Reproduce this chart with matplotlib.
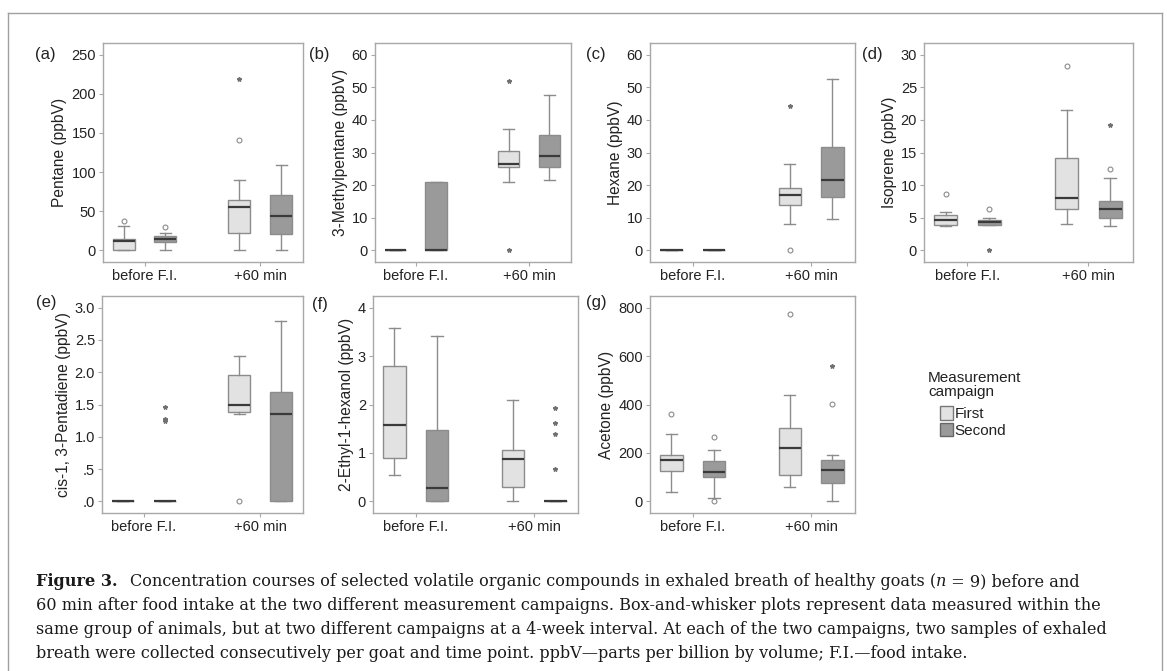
import matplotlib
matplotlib.use("Agg")
import matplotlib.pyplot as plt
from matplotlib.patches import Patch
from matplotlib.lines import Line2D
import numpy as np

## Data (ppbV)
# order of boxes in every panel: before/First, before/Second, +60/First, +60/Second
groups = ['before F.I.', '+60 min']
campaigns = ['First', 'Second']

panels = ['(a)', '(b)', '(c)', '(d)', '(e)', '(f)', '(g)']
ylabels = ['Pentane (ppbV)', '3-Methylpentane (ppbV)', 'Hexane (ppbV)', 'Isoprene (ppbV)',
           'cis-1, 3-Pentadiene (ppbV)', '2-Ethyl-1-hexanol (ppbV)', 'Acetone (ppbV)']
yticks = [[0, 50, 100, 150, 200, 250],
          [0, 10, 20, 30, 40, 50, 60],
          [0, 10, 20, 30, 40, 50, 60],
          [0, 5, 10, 15, 20, 25, 30],
          [0, 0.5, 1.0, 1.5, 2.0, 2.5, 3.0],
          [0, 1, 2, 3, 4],
          [0, 200, 400, 600, 800]]
yticklabels_e = ['.0', '.5', '1.0', '1.5', '2.0', '2.5', '3.0']

q1 = [[0, 10.3, 22.6, 21.4],
      [0, 0, 25.4, 25.7],
      [0, 0, 13.8, 16.4],
      [3.9, 3.85, 6.3, 5.0],
      [0, 0, 1.38, 0],
      [0.90, 0, 0.30, 0],
      [127, 99, 109, 76]]
med = [[12, 14, 55, 43.6],
       [0, 0, 26.4, 29],
       [0, 0, 17, 21.7],
       [4.7, 4.3, 8.0, 6.4],
       [0, 0, 1.49, 1.36],
       [1.57, 0.28, 0.875, 0],
       [169, 121, 221, 128]]
q3 = [[15, 18.8, 64, 70.5],
      [0, 20.8, 30.6, 35.4],
      [0, 0, 19, 31.6],
      [5.4, 4.6, 14.1, 7.5],
      [0, 0, 1.96, 1.69],
      [2.80, 1.48, 1.07, 0],
      [192, 165, 305, 172]]
whislo = [[0, 0, 0, 0],
          [0, 0, 21, 21.7],
          [0, 0, 8, 9.5],
          [3.7, 3.85, 4.1, 3.8],
          [0, 0, 1.35, 0],
          [0.55, 0, 0, 0],
          [37, 16, 60, 0]]
whishi = [[31.6, 22.6, 90, 109],
          [0, 20.8, 37.3, 47.6],
          [0, 0, 26.6, 52.5],
          [5.9, 5.0, 21.5, 11.1],
          [0, 0, 2.25, 2.79],
          [3.58, 3.41, 2.09, 0],
          [279, 212, 439, 192]]
# outliers (open circles)
outliers = [[[38], [30], [141], []],
            [[], [], [], []],
            [[], [], [0], []],
            [[8.7], [6.4], [28.3], [12.4]],
            [[], [], [0], []],
            [[], [], [], []],
            [[362], [267, 0], [775], [402]]]
# extreme values (asterisks)
extremes = [[[], [], [219], []],
            [[], [], [52, 0], []],
            [[], [], [44.4], []],
            [[], [0], [], [19.2]],
            [[], [1.46, 1.27, 1.25], [], []],
            [[], [], [], [1.93, 1.61, 1.39, 0.66]],
            [[], [], [], [559]]]

caption = [
    'Concentration courses of selected volatile organic compounds in exhaled breath of healthy goats (',
    '60 min after food intake at the two different measurement campaigns. Box-and-whisker plots represent data measured within the',
    'same group of animals, but at two different campaigns at a 4-week interval. At each of the two campaigns, two samples of exhaled',
    'breath were collected consecutively per goat and time point. ppbV\u2014parts per billion by volume; F.I.\u2014food intake.',
]

## Layout (pixels of the 1167x671 picture)
W, H = 1167, 671
boxes_px = [(103, 303, 43, 262), (375, 571, 43, 262), (650, 855, 43, 262), (924, 1133, 43, 262),
            (102, 303, 296, 513), (373, 578, 296, 513), (650, 855, 296, 513)]
label_px = [(35, 55), (309, 55), (586, 55), (862, 55), (36, 303), (312, 305), (586, 303)]

light = '#e2e2e2'
dark = '#9a9a9a'
edge = '#8c8c8c'
spine = '#a8a8a8'

plt.rcParams['font.family'] = ['Liberation Sans', 'DejaVu Sans']

fig = plt.figure(figsize=(W / 100, H / 100), dpi=100)

offs = 0.18
pos = [1 - offs, 1 + offs, 2 - offs, 2 + offs]
fills = [light, dark, light, dark]

for i in range(7):
    x0, x1, y0, y1 = boxes_px[i]
    ax = fig.add_axes([x0 / W, 1 - y1 / H, (x1 - x0) / W, (y1 - y0) / H])
    stats = []
    for k in range(4):
        stats.append(dict(med=med[i][k], q1=q1[i][k], q3=q3[i][k],
                          whislo=whislo[i][k], whishi=whishi[i][k],
                          fliers=outliers[i][k]))
    bp = ax.bxp(stats, positions=pos, widths=0.19, patch_artist=True,
                boxprops=dict(edgecolor=edge, linewidth=1.0),
                medianprops=dict(color='#3a3a3a', linewidth=1.6),
                whiskerprops=dict(color=edge, linewidth=1.0),
                capprops=dict(color=edge, linewidth=1.0),
                flierprops=dict(marker='o', markersize=3.5, markerfacecolor='none',
                                markeredgecolor='#8a8a8a', markeredgewidth=0.8))
    for patch, c in zip(bp['boxes'], fills):
        patch.set_facecolor(c)
    for k in range(4):
        if extremes[i][k]:
            ax.plot([pos[k]] * len(extremes[i][k]), extremes[i][k], ls='none',
                    marker='*', markersize=3.2, color='#707070')

    t = yticks[i]
    R = t[-1] - t[0]
    ax.set_ylim(t[0] - 0.06 * R, t[-1] + 0.06 * R)
    ax.set_yticks(t)
    if i == 4:
        ax.set_yticklabels(yticklabels_e)
    ax.set_xlim(0.64, 2.37)
    ax.set_xticks([1, 2])
    ax.set_xticklabels(groups)
    ax.tick_params(axis='both', length=3, width=0.8, color=spine, labelsize=10.5,
                   labelcolor='#222222', pad=2)
    ax.set_ylabel(ylabels[i], fontsize=11.2, color='#222222', labelpad=3)
    for s in ax.spines.values():
        s.set_color(spine)
        s.set_linewidth(1.0)

    lx, ly = label_px[i]
    fig.text(lx / W, 1 - ly / H, panels[i], fontsize=12, color='#222222', va='center', ha='left')

# legend
fig.text(928 / W, 1 - 371 / H, 'Measurement\ncampaign', fontsize=11, color='#222222',
         va='top', ha='left', linespacing=1.0)
handles = [Patch(facecolor=light, edgecolor='#777777', label=campaigns[0]),
           Patch(facecolor=dark, edgecolor='#666666', label=campaigns[1])]
leg = fig.legend(handles=handles, loc='upper left', bbox_to_anchor=(940 / W, 1 - 406 / H),
                 frameon=False, fontsize=11, handlelength=0.85, handleheight=1.0,
                 handletextpad=0.1, labelspacing=0.1, borderpad=0, borderaxespad=0)
for txt in leg.get_texts():
    txt.set_color('#222222')

# outer frame of the figure panel
fc = '#a0a0a0'
fig.add_artist(Line2D([8 / W, 1162 / W], [1 - 13 / H, 1 - 13 / H], color=fc, lw=1.0))
fig.add_artist(Line2D([8 / W, 8 / W], [0, 1 - 13 / H], color=fc, lw=1.0))
fig.add_artist(Line2D([1162 / W, 1162 / W], [0, 1 - 13 / H], color=fc, lw=1.0))

# caption
serif = ['DejaVu Serif']
cfs = 11.65
cx = 36 / W
line_y = [582, 606, 630, 653]
renderer = fig.canvas.get_renderer()
t1 = fig.text(cx, 1 - line_y[0] / H, 'Figure 3.', family=serif, fontsize=cfs,
              fontweight='bold', va='center', color='#1a1a1a')
bb = t1.get_window_extent(renderer)
t2 = fig.text(bb.x1 / W + 12 / W, 1 - line_y[0] / H, caption[0], family=serif,
              fontsize=cfs, va='center', color='#1a1a1a')
bb = t2.get_window_extent(renderer)
t3 = fig.text(bb.x1 / W, 1 - line_y[0] / H, 'n', family=serif, fontsize=cfs,
              style='italic', va='center', color='#1a1a1a')
bb = t3.get_window_extent(renderer)
fig.text(bb.x1 / W, 1 - line_y[0] / H, ' = 9) before and', family=serif,
         fontsize=cfs, va='center', color='#1a1a1a')
for j in range(1, 4):
    fig.text(cx, 1 - line_y[j] / H, caption[j], family=serif, fontsize=cfs,
             va='center', color='#1a1a1a')

fig.savefig('out.png', dpi=100)
